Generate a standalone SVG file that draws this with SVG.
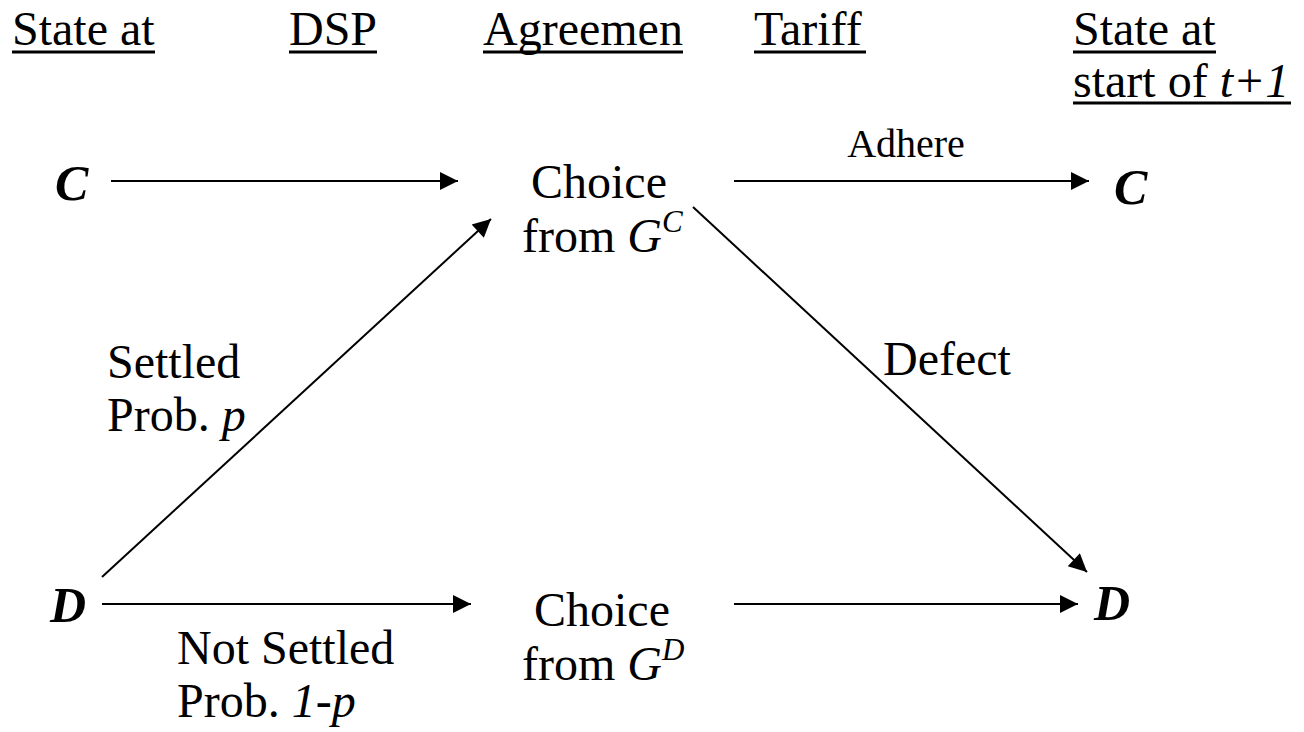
<svg xmlns="http://www.w3.org/2000/svg" width="1304" height="732" viewBox="0 0 1304 732">
<style>
text{font-family:"Liberation Serif","Times New Roman",serif;fill:#000}
.h{font-size:48px}
.b{font-size:48px}
.s{font-size:40px}
.n{font-size:50px;font-weight:bold;font-style:italic}
.i{font-style:italic}
.u{stroke:#000;stroke-width:3}
.c{stroke:#000;stroke-width:2;fill:none}
</style>
<defs>
<marker id="ah" viewBox="0 0 10 10" refX="10" refY="5" markerWidth="20" markerHeight="18" markerUnits="userSpaceOnUse" orient="auto"><path d="M0,0 L10,5 L0,10 z" fill="#000"/></marker>
</defs>
<rect width="1304" height="732" fill="#fff"/>
<g id="headers">
<text class="h" x="12" y="45">State at</text>
<line class="u" x1="12" y1="52" x2="155" y2="52"/>
<text class="h" x="289" y="45">DSP</text>
<line class="u" x1="289" y1="52" x2="377" y2="52"/>
<text class="h" x="483" y="45">Agreemen</text>
<line class="u" x1="483" y1="52" x2="683" y2="52"/>
<text class="h" x="754" y="45">Tariff</text>
<line class="u" x1="754" y1="52" x2="866" y2="52"/>
<text class="h" x="1073" y="45">State at</text>
<line class="u" x1="1073" y1="52" x2="1216" y2="52"/>
<text class="h" x="1073" y="97">start of <tspan class="i">t+1</tspan></text>
<line class="u" x1="1073" y1="103" x2="1291" y2="103"/>
</g>
<g id="C-start"><text class="n" x="55" y="200">C</text></g>
<g id="D-start"><text class="n" x="50" y="622">D</text></g>
<g id="choice-C"><text class="b" x="531" y="198">Choice</text><text class="b" x="522" y="252">from <tspan class="i">G</tspan><tspan class="i" font-size="31" dy="-20">C</tspan></text></g>
<g id="choice-D"><text class="b" x="534" y="626">Choice</text><text class="b" x="522" y="680">from <tspan class="i">G</tspan><tspan class="i" font-size="31" dy="-20">D</tspan></text></g>
<g id="C-end"><text class="n" x="1114" y="204">C</text></g>
<g id="D-end"><text class="n" x="1094" y="620">D</text></g>
<g id="connectors">
<line class="c" x1="111" y1="181" x2="458" y2="181" marker-end="url(#ah)"/>
<line class="c" x1="102" y1="577" x2="491" y2="219" marker-end="url(#ah)"/>
<line class="c" x1="102" y1="604" x2="471" y2="604" marker-end="url(#ah)"/>
<line class="c" x1="734" y1="181" x2="1089" y2="181" marker-end="url(#ah)"/>
<line class="c" x1="693" y1="207" x2="1087" y2="572" marker-end="url(#ah)"/>
<line class="c" x1="734" y1="604" x2="1078" y2="604" marker-end="url(#ah)"/>
<text class="s" x="906" y="157" text-anchor="middle">Adhere</text>
<text class="b" x="883" y="375">Defect</text>
<text class="b" x="107" y="378">Settled</text>
<text class="b" x="107" y="431">Prob. <tspan class="i">p</tspan></text>
<text class="b" x="177" y="664">Not Settled</text>
<text class="b" x="177" y="717">Prob. <tspan class="i">1-p</tspan></text>
</g>
</svg>
